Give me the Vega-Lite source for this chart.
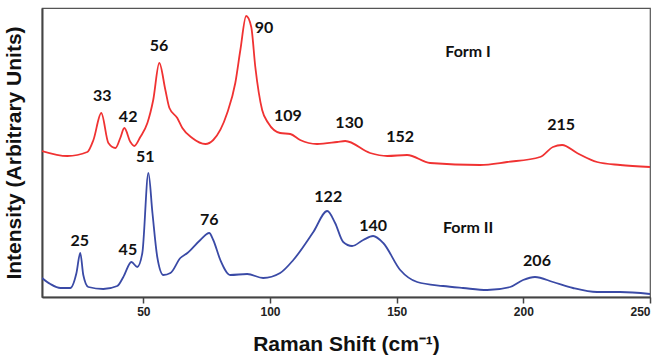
{
  "$schema": "https://vega.github.io/schema/vega-lite/v6.json",
  "width": 608,
  "height": 289,
  "autosize": "none",
  "padding": {"left": 42, "top": 8, "right": 13, "bottom": 64},
  "background": "white",
  "config": {
    "view": {"stroke": "#555555", "strokeWidth": 1.2},
    "axis": {"grid": false}
  },
  "datasets": {
    "spectra": [
      {"x": 10, "y": 146, "form": "Form I"},
      {"x": 20.0, "y": 141, "form": "Form I"},
      {"x": 27.9, "y": 145, "form": "Form I"},
      {"x": 30.3, "y": 157, "form": "Form I"},
      {"x": 33.4, "y": 184, "form": "Form I"},
      {"x": 36.2, "y": 154, "form": "Form I"},
      {"x": 39.0, "y": 149, "form": "Form I"},
      {"x": 40.9, "y": 159, "form": "Form I"},
      {"x": 42.5, "y": 169, "form": "Form I"},
      {"x": 44.9, "y": 155, "form": "Form I"},
      {"x": 46.4, "y": 151, "form": "Form I"},
      {"x": 48.8, "y": 160, "form": "Form I"},
      {"x": 51.6, "y": 174, "form": "Form I"},
      {"x": 53.9, "y": 197, "form": "Form I"},
      {"x": 56.3, "y": 234, "form": "Form I"},
      {"x": 58.7, "y": 207, "form": "Form I"},
      {"x": 60.3, "y": 189, "form": "Form I"},
      {"x": 63.4, "y": 179, "form": "Form I"},
      {"x": 65.4, "y": 169, "form": "Form I"},
      {"x": 69.3, "y": 159, "form": "Form I"},
      {"x": 74.5, "y": 153, "form": "Form I"},
      {"x": 77.6, "y": 157, "form": "Form I"},
      {"x": 83.1, "y": 184, "form": "Form I"},
      {"x": 86.3, "y": 214, "form": "Form I"},
      {"x": 88.3, "y": 247, "form": "Form I"},
      {"x": 90.6, "y": 281, "form": "Form I"},
      {"x": 92.6, "y": 270, "form": "Form I"},
      {"x": 94.2, "y": 230, "form": "Form I"},
      {"x": 96.9, "y": 187, "form": "Form I"},
      {"x": 99.3, "y": 174, "form": "Form I"},
      {"x": 104.0, "y": 164, "form": "Form I"},
      {"x": 108.0, "y": 163, "form": "Form I"},
      {"x": 111.9, "y": 157, "form": "Form I"},
      {"x": 118.6, "y": 153, "form": "Form I"},
      {"x": 126.5, "y": 155, "form": "Form I"},
      {"x": 129.7, "y": 156, "form": "Form I"},
      {"x": 139.5, "y": 144, "form": "Form I"},
      {"x": 146.3, "y": 141, "form": "Form I"},
      {"x": 154.1, "y": 142, "form": "Form I"},
      {"x": 163.2, "y": 134, "form": "Form I"},
      {"x": 182.9, "y": 132, "form": "Form I"},
      {"x": 193.6, "y": 135, "form": "Form I"},
      {"x": 206.6, "y": 140, "form": "Form I"},
      {"x": 211.7, "y": 150, "form": "Form I"},
      {"x": 215.3, "y": 152, "form": "Form I"},
      {"x": 221.2, "y": 144, "form": "Form I"},
      {"x": 229.1, "y": 135, "form": "Form I"},
      {"x": 238.2, "y": 132, "form": "Form I"},
      {"x": 250, "y": 130, "form": "Form I"},
      {"x": 10, "y": 19, "form": "Form II"},
      {"x": 13.3, "y": 13, "form": "Form II"},
      {"x": 17.3, "y": 9, "form": "Form II"},
      {"x": 21.2, "y": 9, "form": "Form II"},
      {"x": 23.6, "y": 24, "form": "Form II"},
      {"x": 25.1, "y": 44, "form": "Form II"},
      {"x": 26.3, "y": 22, "form": "Form II"},
      {"x": 28.3, "y": 10, "form": "Form II"},
      {"x": 34.2, "y": 8, "form": "Form II"},
      {"x": 39.7, "y": 11, "form": "Form II"},
      {"x": 42.1, "y": 20, "form": "Form II"},
      {"x": 45.3, "y": 35, "form": "Form II"},
      {"x": 47.6, "y": 30, "form": "Form II"},
      {"x": 49.6, "y": 44, "form": "Form II"},
      {"x": 52.0, "y": 124, "form": "Form II"},
      {"x": 53.6, "y": 84, "form": "Form II"},
      {"x": 55.5, "y": 40, "form": "Form II"},
      {"x": 57.9, "y": 22, "form": "Form II"},
      {"x": 60.7, "y": 24, "form": "Form II"},
      {"x": 64.6, "y": 39, "form": "Form II"},
      {"x": 67.4, "y": 44, "form": "Form II"},
      {"x": 72.5, "y": 57, "form": "Form II"},
      {"x": 76.0, "y": 64, "form": "Form II"},
      {"x": 77.6, "y": 57, "form": "Form II"},
      {"x": 80.4, "y": 37, "form": "Form II"},
      {"x": 84.3, "y": 22, "form": "Form II"},
      {"x": 91.0, "y": 23, "form": "Form II"},
      {"x": 97.3, "y": 19, "form": "Form II"},
      {"x": 104.0, "y": 24, "form": "Form II"},
      {"x": 109.2, "y": 37, "form": "Form II"},
      {"x": 117.1, "y": 65, "form": "Form II"},
      {"x": 122.6, "y": 86, "form": "Form II"},
      {"x": 125.7, "y": 74, "form": "Form II"},
      {"x": 128.9, "y": 55, "form": "Form II"},
      {"x": 132.4, "y": 51, "form": "Form II"},
      {"x": 136.8, "y": 57, "form": "Form II"},
      {"x": 140.7, "y": 61, "form": "Form II"},
      {"x": 144.7, "y": 54, "form": "Form II"},
      {"x": 151.4, "y": 27, "form": "Form II"},
      {"x": 158.1, "y": 15, "form": "Form II"},
      {"x": 168.3, "y": 11, "form": "Form II"},
      {"x": 176.2, "y": 9, "form": "Form II"},
      {"x": 185.7, "y": 7, "form": "Form II"},
      {"x": 194.8, "y": 10, "form": "Form II"},
      {"x": 199.9, "y": 17, "form": "Form II"},
      {"x": 204.6, "y": 20, "form": "Form II"},
      {"x": 211.7, "y": 15, "form": "Form II"},
      {"x": 219.6, "y": 9, "form": "Form II"},
      {"x": 229.1, "y": 5, "form": "Form II"},
      {"x": 238.2, "y": 5, "form": "Form II"},
      {"x": 250, "y": 3, "form": "Form II"}
    ],
    "labels": [
      {"x": 33.8, "y": 201, "label": "33"},
      {"x": 44.0, "y": 180, "label": "42"},
      {"x": 56.2, "y": 251, "label": "56"},
      {"x": 97.6, "y": 269, "label": "90"},
      {"x": 107.1, "y": 181, "label": "109"},
      {"x": 131.3, "y": 174, "label": "130"},
      {"x": 151.4, "y": 160, "label": "152"},
      {"x": 214.9, "y": 172, "label": "215"},
      {"x": 178.2, "y": 245, "label": "Form I"},
      {"x": 50.8, "y": 140, "label": "51"},
      {"x": 24.9, "y": 56, "label": "25"},
      {"x": 43.9, "y": 47, "label": "45"},
      {"x": 76.0, "y": 77, "label": "76"},
      {"x": 123.0, "y": 100, "label": "122"},
      {"x": 140.7, "y": 71, "label": "140"},
      {"x": 178.2, "y": 69, "label": "Form II"},
      {"x": 205.4, "y": 36, "label": "206"}
    ]
  },
  "layer": [
    {
      "data": {"name": "spectra"},
      "mark": {"type": "line", "interpolate": "monotone", "strokeWidth": 1.8, "clip": true},
      "encoding": {
        "x": {
          "field": "x", "type": "quantitative",
          "scale": {"domain": [10, 250], "nice": false, "zero": false},
          "axis": {
            "title": "Raman Shift (cm⁻¹)",
            "values": [50, 100, 150, 200, 250],
            "domainColor": "#444444", "domainWidth": 2,
            "tickColor": "#444444", "tickSize": 6, "tickWidth": 1.5,
            "labelFont": "Liberation Sans", "labelFontWeight": "bold", "labelFontSize": 12,
            "labelColor": "#222222", "labelPadding": 3,
            "titleFont": "Liberation Sans", "titleFontWeight": "bold", "titleFontSize": 21,
            "titleColor": "#111111", "titlePadding": 16
          }
        },
        "y": {
          "field": "y", "type": "quantitative",
          "scale": {"domain": [0, 289], "nice": false},
          "axis": {
            "title": "Intensity (Arbitrary Units)",
            "ticks": false, "labels": false,
            "domainColor": "#444444", "domainWidth": 2,
            "titleFont": "Liberation Sans", "titleFontWeight": "bold", "titleFontSize": 21,
            "titleColor": "#111111", "titlePadding": 18
          }
        },
        "color": {
          "field": "form", "type": "nominal",
          "scale": {"domain": ["Form I", "Form II"], "range": ["#f03232", "#3a4aa6"]},
          "legend": null
        }
      }
    },
    {
      "data": {"name": "labels"},
      "mark": {"type": "text", "font": "Lato", "fontWeight": "bold", "fontSize": 16, "color": "#111111", "baseline": "middle", "align": "center"},
      "encoding": {
        "x": {"field": "x", "type": "quantitative"},
        "y": {"field": "y", "type": "quantitative"},
        "text": {"field": "label"}
      }
    }
  ]
}
